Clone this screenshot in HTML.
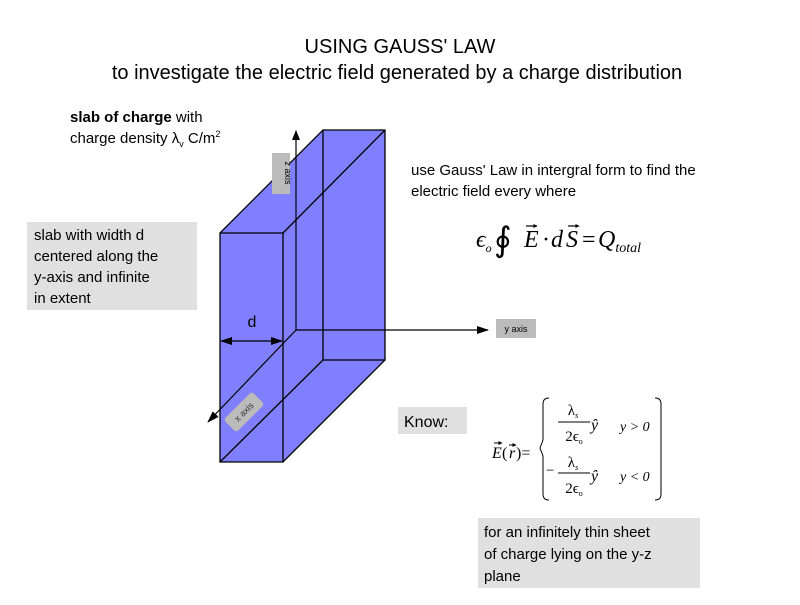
<!DOCTYPE html>
<html><head><style>
body{margin:0;width:800px;height:600px;background:#fff;overflow:hidden;font-family:"Liberation Sans",sans-serif}
</style></head><body>
<svg width="800" height="600" xmlns="http://www.w3.org/2000/svg" font-family="Liberation Sans, sans-serif">
<defs><marker id="a" markerWidth="10" markerHeight="8" refX="9" refY="4" orient="auto" markerUnits="userSpaceOnUse"><path d="M0,0L10,4L0,8z" fill="#000"/></marker>
<marker id="b" markerWidth="12" markerHeight="8" refX="11" refY="4" orient="auto-start-reverse" markerUnits="userSpaceOnUse"><path d="M0,0L12,4L0,8z" fill="#000"/></marker>
<marker id="v" markerWidth="4" markerHeight="4" refX="3.5" refY="2" orient="auto" markerUnits="userSpaceOnUse"><path d="M0,0L4,2L0,4z" fill="#000"/></marker></defs>
<text x="400" y="53" font-size="20" text-anchor="middle">USING GAUSS' LAW</text>
<text x="397" y="79" font-size="20" text-anchor="middle">to investigate the electric field generated by a charge distribution</text>
<text x="70" y="122" font-size="15"><tspan font-weight="bold">slab of charge</tspan> with</text>
<text x="70" y="143" font-size="15">charge density λ<tspan font-size="9" dy="4">v</tspan><tspan dy="-4"> C/m</tspan><tspan font-size="9" dy="-6">2</tspan></text>
<rect x="27" y="222" width="170" height="88" fill="#e0e0e0"/>
<text font-size="15"><tspan x="34" y="240">slab with width d</tspan><tspan x="34" y="261">centered along the</tspan><tspan x="34" y="282">y-axis and infinite</tspan><tspan x="34" y="303">in extent</tspan></text>
<g stroke="#000" stroke-width="1.3" fill="#8080ff">
<polygon points="220,233 323,130 385,130 385,360 283,462 220,462"/>
<line x1="220" y1="233" x2="283" y2="233"/><line x1="283" y1="233" x2="385" y2="130"/><line x1="283" y1="233" x2="283" y2="462"/>
<line x1="323" y1="130" x2="323" y2="360"/><line x1="323" y1="360" x2="385" y2="360"/>
<line x1="220" y1="462" x2="323" y2="360"/>
</g>
<g stroke="#000" stroke-width="1.2">
<line x1="296" y1="330" x2="296" y2="131" marker-end="url(#a)"/>
<line x1="296" y1="330" x2="488" y2="330" marker-end="url(#b)"/>
<line x1="296" y1="330" x2="208" y2="422" marker-end="url(#b)"/>
<line x1="221" y1="341" x2="282" y2="341" marker-start="url(#b)" marker-end="url(#b)"/>
</g>
<text x="252" y="327" font-size="16" text-anchor="middle">d</text>
<rect x="272" y="153" width="18" height="41" fill="#bbb"/>
<text font-size="9" transform="translate(285,173) rotate(90)" text-anchor="middle">z axis</text>
<rect x="496" y="319" width="40" height="19" fill="#bbb"/>
<text x="516" y="332" font-size="9" text-anchor="middle">y axis</text>
<g transform="translate(244,412) rotate(-45)"><rect x="-20" y="-9" width="40" height="18" rx="3" fill="#bbb"/><text y="3" font-size="9" text-anchor="middle" fill="#333">x axis</text></g>
<text x="411" y="175" font-size="15">use Gauss' Law in intergral form to find the</text>
<text x="411" y="196" font-size="15">electric field every where</text>
<g font-family="Liberation Serif, serif" font-style="italic" font-size="24">
<text x="476" y="247">ϵ<tspan font-size="12" dy="5">o</tspan></text>
<text x="494" y="251" font-style="normal" font-size="34">∮</text>
<text x="524" y="247">E</text>
<text x="542" y="247" font-style="normal">·</text>
<text x="551" y="247">d</text>
<text x="566" y="247">S</text>
<text x="582" y="247" font-style="normal">=</text>
<text x="598" y="247">Q<tspan font-size="14" dy="5">total</tspan></text>
</g>
<g stroke="#000" stroke-width="1.2" fill="none">
<line x1="526" y1="226" x2="537" y2="226" marker-end="url(#v)"/>
<line x1="568" y1="226" x2="579" y2="226" marker-end="url(#v)"/>
</g>
<rect x="398" y="407" width="69" height="27" fill="#e0e0e0"/>
<text x="404" y="427" font-size="16">Know:</text>
<g font-family="Liberation Serif, serif" font-size="16">
<text x="492" y="458" font-style="italic">E</text>
<text x="502" y="458">(</text>
<text x="509" y="458" font-style="italic">r</text>
<text x="516" y="458">)=</text>
<g stroke="#000" stroke-width="1" fill="none">
<line x1="494" y1="443" x2="502" y2="443" marker-end="url(#v)"/>
<line x1="509" y1="445" x2="516" y2="445" marker-end="url(#v)"/>
</g>
<path d="M549,398 Q543,398 543,404 L543,440 L540,448 L543,456 L543,494 Q543,500 549,500" fill="none" stroke="#000"/>
<path d="M655,398 Q661,398 661,404 L661,494 Q661,500 655,500" fill="none" stroke="#000"/>
<text x="573" y="415" text-anchor="middle" font-size="15">λ<tspan font-size="8" dy="3" font-style="italic">s</tspan></text>
<line x1="558" y1="422" x2="590" y2="422" stroke="#000"/>
<text x="574" y="441" text-anchor="middle" font-size="15">2ϵ<tspan font-size="8" dy="3">o</tspan></text>
<text x="591" y="430" font-style="italic">ŷ</text>
<text x="620" y="431" font-style="italic" font-size="14">y &gt; 0</text>
<text x="546" y="475" font-size="15">−</text>
<text x="573" y="467" text-anchor="middle" font-size="15">λ<tspan font-size="8" dy="3" font-style="italic">s</tspan></text>
<line x1="558" y1="473" x2="590" y2="473" stroke="#000"/>
<text x="574" y="493" text-anchor="middle" font-size="15">2ϵ<tspan font-size="8" dy="3">o</tspan></text>
<text x="591" y="481" font-style="italic">ŷ</text>
<text x="620" y="481" font-style="italic" font-size="14">y &lt; 0</text>
</g>
<rect x="478" y="518" width="222" height="70" fill="#e0e0e0"/>
<text font-size="15"><tspan x="484" y="537">for an infinitely thin sheet</tspan><tspan x="484" y="559">of charge lying on the y-z</tspan><tspan x="484" y="581">plane</tspan></text>
</svg>
</body></html>
